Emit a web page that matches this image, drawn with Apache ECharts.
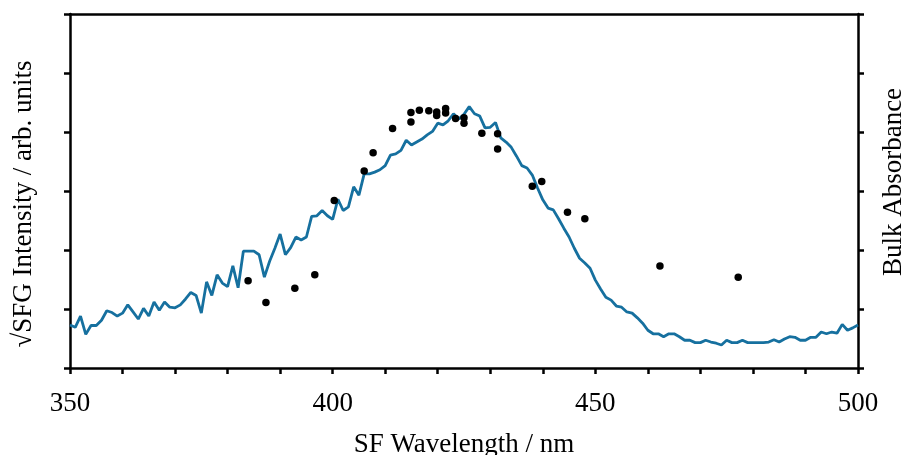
<!DOCTYPE html>
<html>
<head>
<meta charset="utf-8">
<script src="https://cdn.jsdelivr.net/npm/echarts@6/dist/echarts.min.js"></script>
<style>html,body{margin:0;padding:0;background:#fff}#c{width:906px;height:455px}</style>
</head>
<body>
<div id="c"></div>
<script>
// SF wavelength (nm) for the blue line
var lineWavelength = [
 350,351,352,353,354,355,356,357,358,359,
 360,361,362,363,364,365,366,367,368,369,
 370,371,372,373,374,375,376,377,378,379,
 380,381,382,383,384,385,386,387,388,389,
 390,391,392,393,394,395,396,397,398,399,
 400,401,402,403,404,405,406,407,408,409,
 410,411,412,413,414,415,416,417,418,419,
 420,421,422,423,424,425,426,427,428,429,
 430,431,432,433,434,435,436,437,438,439,
 440,441,442,443,444,445,446,447,448,449,
 450,451,452,453,454,455,456,457,458,459,
 460,461,462,463,464,465,466,467,468,469,
 470,471,472,473,474,475,476,477,478,479,
 480,481,482,483,484,485,486,487,488,489,
 490,491,492,493,494,495,496,497,498,499,
 500];
// Bulk absorbance (arb., axis 0..6)
var absorbance = [
 0.73,0.69,0.88,0.57,0.72,0.72,0.81,0.97,0.94,0.88,
 0.93,1.07,0.95,0.83,1.01,0.88,1.12,0.98,1.12,1.03,
 1.02,1.07,1.17,1.28,1.23,0.93,1.46,1.23,1.58,1.44,
 1.38,1.73,1.36,1.98,1.98,1.98,1.92,1.54,1.81,2.03,
 2.27,1.92,2.04,2.22,2.17,2.22,2.57,2.58,2.67,2.58,
 2.52,2.86,2.67,2.73,3.07,2.93,3.29,3.29,3.32,3.36,
 3.43,3.61,3.63,3.69,3.86,3.78,3.83,3.88,3.95,4.01,
 4.15,4.12,4.19,4.31,4.22,4.30,4.43,4.31,4.27,4.07,
 4.08,4.16,3.90,3.83,3.74,3.59,3.43,3.39,3.27,3.05,
 2.85,2.71,2.68,2.53,2.37,2.22,2.03,1.86,1.78,1.69,
 1.49,1.34,1.20,1.15,1.05,1.03,0.95,0.93,0.85,0.76,
 0.64,0.58,0.58,0.53,0.58,0.58,0.53,0.47,0.47,0.43,
 0.43,0.47,0.44,0.42,0.39,0.47,0.43,0.43,0.47,0.43,
 0.43,0.43,0.43,0.44,0.48,0.44,0.49,0.53,0.52,0.47,
 0.47,0.52,0.52,0.61,0.58,0.61,0.59,0.74,0.64,0.68,
 0.73];
// SFG points
var sfgWavelength = [383.9,387.3,392.8,396.6,400.3,406.0,407.7,411.4,414.9,414.9,416.5,418.3,419.8,419.8,421.5,421.5,423.4,425.0,425.0,428.4,431.4,431.4,438.0,439.8,444.7,448.0,462.3,477.2];
var sfgIntensity  = [1.48,1.11,1.35,1.58,2.84,3.34,3.65,4.06,4.33,4.17,4.37,4.36,4.34,4.28,4.40,4.32,4.23,4.24,4.15,3.98,3.97,3.71,3.08,3.16,2.64,2.53,1.73,1.54];
var xTickLabels = [350,400,450,500];

var FONT = '"Liberation Serif","Times New Roman",serif';
var lineData = lineWavelength.map(function(w,i){return [w, absorbance[i]];});
var dotData = sfgWavelength.map(function(w,i){return [w, sfgIntensity[i]];});
var black = '#000';
var chart = echarts.init(document.getElementById('c'), null, {renderer:'canvas'});
chart.setOption({
  animation:false,
  backgroundColor:'#fff',
  grid:{left:70, top:14, width:788, height:354, containLabel:false, outerBoundsMode:'none'},
  xAxis:[{
    type:'value', position:'bottom', min:350, max:500, interval:10,
    name:'SF Wavelength / nm', nameLocation:'middle', nameGap:63,
    nameTextStyle:{fontFamily:FONT, fontSize:27, color:black},
    axisLine:{show:true, onZero:false, lineStyle:{color:black, width:2.5}},
    axisTick:{show:true, inside:false, length:6, lineStyle:{color:black, width:2.5}},
    axisLabel:{show:true, margin:22, fontFamily:FONT, fontSize:27, color:black, hideOverlap:false,
      formatter:function(v){return xTickLabels.indexOf(v)>=0 ? String(v) : '';}},
    splitLine:{show:false}
  },{
    type:'value', position:'top', min:350, max:500,
    axisLine:{show:true, onZero:false, lineStyle:{color:black, width:2.5}},
    axisTick:{show:false}, axisLabel:{show:false}, splitLine:{show:false}
  }],
  yAxis:[{
    type:'value', position:'left', min:0, max:6, interval:1,
    axisLine:{show:true, onZero:false, lineStyle:{color:black, width:2.5}},
    axisTick:{show:true, inside:false, length:6, lineStyle:{color:black, width:2.5}},
    axisLabel:{show:false}, splitLine:{show:false}
  },{
    type:'value', position:'right', min:0, max:6, interval:1,
    axisLine:{show:true, onZero:false, lineStyle:{color:black, width:2.5}},
    axisTick:{show:true, inside:false, length:6, lineStyle:{color:black, width:2.5}},
    axisLabel:{show:false}, splitLine:{show:false}
  }],
  graphic:[
    {type:'text', x:24, y:204, rotation:Math.PI/2,
     style:{text:'\u221ASFG Intensity / arb. units', font:'27px "Liberation Serif", serif', fill:black, align:'center', verticalAlign:'middle'}},
    {type:'text', x:894, y:182, rotation:Math.PI/2,
     style:{text:'Bulk Absorbance', font:'27px "Liberation Serif", serif', fill:black, align:'center', verticalAlign:'middle'}}
  ],
  series:[{
    type:'line', xAxisIndex:0, yAxisIndex:1, data:lineData, showSymbol:false, symbol:'none',
    lineStyle:{color:'#16709f', width:2.8}, z:2
  },{
    type:'scatter', xAxisIndex:0, yAxisIndex:0, data:dotData, symbol:'circle', symbolSize:7.5,
    itemStyle:{color:black, opacity:1}, z:3
  }]
});
</script>
</body>
</html>
